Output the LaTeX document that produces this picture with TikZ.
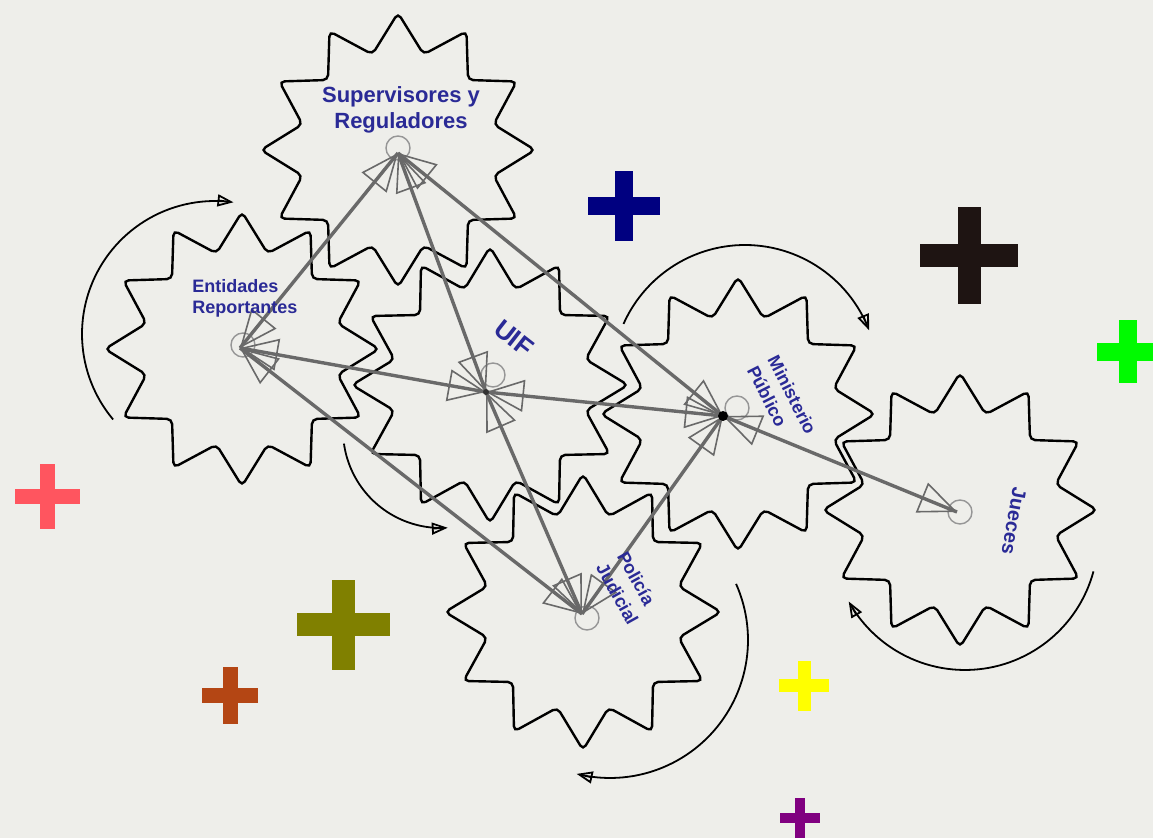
\documentclass[tikz,border=0pt]{standalone}
\usepackage{fontspec}
\setmainfont{Liberation Sans}
\usetikzlibrary{arrows.meta}
\definecolor{bg}{RGB}{238,238,234}
\definecolor{lbl}{RGB}{42,42,150}
\definecolor{edgegray}{RGB}{105,105,105}
\definecolor{markgray}{RGB}{150,150,150}
\definecolor{pnavy}{RGB}{0,0,128}
\definecolor{pblack}{RGB}{30,20,18}
\definecolor{pgreen}{RGB}{0,250,0}
\definecolor{ppink}{RGB}{255,85,95}
\definecolor{polive}{RGB}{128,128,0}
\definecolor{pbrown}{RGB}{180,70,20}
\definecolor{pyellow}{RGB}{255,255,0}
\definecolor{ppurple}{RGB}{128,0,128}
\tikzset{
  gearline/.style={draw=black, line width=1.2pt, rounded corners=2.6pt},
  linkline/.style={draw=edgegray, line width=1.7pt},
  linktips/.style={draw=edgegray, line width=0.8pt,
    {Triangle[open,length=19pt,width=16pt]}-{Triangle[open,length=19pt,width=16pt]}},
  turn/.style={draw=black, line width=0.9pt, -{Triangle[open,length=8pt,width=6pt]}},
  lab/.style={text=lbl, inner sep=1pt},
  marker/.style={circle, draw=markgray, line width=0.7pt, minimum size=12pt, inner sep=0pt},
}
% gear: centre x, centre y, tip radius
\newcommand\gearpath[3]{%
  \begin{scope}[shift={(#1,#2)}]
    \draw[gearline] (0:#3)
      \foreach \k in {1,...,11}{ -- ({30*\k-15}:99) -- ({30*\k}:#3)}
      -- (345:99) -- cycle;
  \end{scope}}
\newcommand\drawplus[6]{%
  \fill[#6] ({#1-#3/2},{#2-#5/2}) rectangle ({#1+#3/2},{#2+#5/2});
  \fill[#6] ({#1-#5/2},{#2-#4/2}) rectangle ({#1+#5/2},{#2+#4/2});}
\begin{document}
\begin{tikzpicture}[x=0.5pt,y=-0.5pt]
\fill[bg] (0,0) rectangle (1153,838);
\useasboundingbox (0,0) rectangle (1153,838);

% gears
\gearpath{398}{150}{137}
\gearpath{242}{349}{137}
\gearpath{490}{385}{138}
\gearpath{738}{414}{137}
\gearpath{960}{510}{137}
\gearpath{583}{612}{138}

% rotation arrows
\draw[turn] plot[domain=140:278, samples=60] ({215+133*cos(\x)},{334+133*sin(\x)});
\draw[turn] plot[domain=172:86, samples=50] ({441+98*cos(\x)},{430+98*sin(\x)});
\draw[turn] plot[domain=204:339, samples=60] ({745+133*cos(\x)},{378+133*sin(\x)});
\draw[turn] plot[domain=15:151, samples=60] ({965+133*cos(\x)},{537+133*sin(\x)});
\draw[turn] plot[domain=-24:104, samples=60] ({610+138*cos(\x)},{640+138*sin(\x)});

% plus signs
\drawplus{624}{206}{72}{70}{18}{pnavy}
\drawplus{969}{256}{98}{97}{23}{pblack}
\drawplus{1128}{352}{62}{63}{18}{pgreen}
\drawplus{47}{497}{65}{65}{15}{ppink}
\drawplus{343}{625}{93}{90}{23}{polive}
\drawplus{230}{696}{56}{57}{15}{pbrown}
\drawplus{804}{686}{50}{50}{13}{pyellow}
\drawplus{800}{818}{40}{40}{10}{ppurple}

% hubs
\coordinate (S) at (398,153);
\coordinate (E) at (240,348);
\coordinate (U) at (486,392);
\coordinate (M) at (723,416);
\coordinate (J) at (957,512);
\coordinate (P) at (582,614);

\node[marker] (Sm) at (398,148) {};
\node[marker] (Em) at (243,345) {};
\node[marker] (Um) at (493,375) {};
\node[marker] (Mm) at (737,408) {};
\node[marker] (Jm) at (960,512) {};
\node[marker] (Pm) at (587,618) {};

% links
\foreach \a/\b in {E/S, S/U, S/M, E/U, U/M, U/P, E/P, P/M, M/J}{
  \draw[linkline] (\a) -- (\b);
  \draw[linktips] (\a) -- (\b);
}
\fill[black] (M) circle[radius=2.5pt];
\fill[black!80] (U) circle[radius=1.5pt];

% labels
\node[lab, font=\bfseries\fontsize{11}{13}\selectfont, align=center] (tS) at (401,110) {Supervisores y\\Reguladores};
\node[lab, font=\bfseries\fontsize{9}{10.5}\selectfont, align=left, anchor=west] (tE) at (190,298) {Entidades\\Reportantes};
\node[lab, font=\bfseries\fontsize{13}{15}\selectfont, rotate=-38] (tU) at (514,338) {UIF};
\node[lab, font=\bfseries\fontsize{9}{11.5}\selectfont, align=left, rotate=-63] (tM) at (782,400) {Ministerio\\Público};
\node[lab, font=\bfseries\fontsize{10}{12}\selectfont, rotate=-100] (tJ) at (1014,521) {Jueces};
\node[lab, font=\bfseries\fontsize{9}{12}\selectfont, align=left, rotate=-61] (tP) at (628,588) {Policía\\Judicial};
\end{tikzpicture}
\end{document}
